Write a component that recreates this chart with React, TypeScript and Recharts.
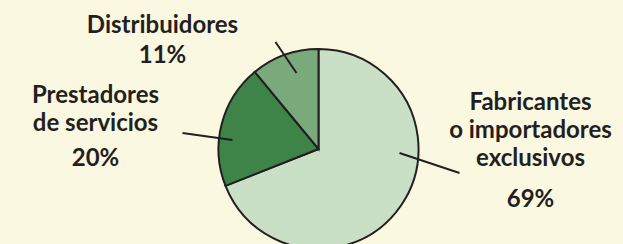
import { PieChart, Pie, Cell } from "recharts"

// reading order clockwise from the top
const categories = [
  "Fabricantes o importadores exclusivos",
  "Prestadores de servicios",
  "Distribuidores",
]
const shares = [69, 20, 11]
const labelRows = [
  ["Fabricantes", "o importadores", "exclusivos"],
  ["Prestadores", "de servicios"],
  ["Distribuidores"],
]

const COLORS = ["#c9e0c6", "#3e8449", "#7aaa7b"]
const INK = "#231f20"
const BG = "#fbf8e1"

// label placement, offsets from the pie centre
const LAYOUT = [
  { x1: 81, y1: 4, x2: 141, y2: 24, tx: 212, ty: -39, pct: 57.5 },
  { x1: -86, y1: -9, x2: -136, y2: -16, tx: -223, ty: -46, pct: 16.5 },
  { x1: -22, y1: -76, x2: -43, y2: -107, tx: -156, ty: -116, pct: -86.5 },
]

const data = categories.map((name, i) => ({
  name,
  value: shares[i],
  rows: labelRows[i],
}))

const textStyle = {
  fill: INK,
  fontSize: 24,
  fontWeight: 700,
  fontFamily: "Lato, sans-serif",
}

function renderLabel(props: any) {
  const { cx, cy, index, value } = props
  const l = LAYOUT[index]
  const rows: string[] = data[index].rows
  return (
    <g>
      <line
        x1={cx + l.x1}
        y1={cy + l.y1}
        x2={cx + l.x2}
        y2={cy + l.y2}
        stroke={INK}
        strokeWidth={2}
      />
      {rows.map((r, i) => (
        <text
          key={r}
          x={cx + l.tx}
          y={cy + l.ty + i * 28}
          textAnchor="middle"
          {...textStyle}
        >
          {r}
        </text>
      ))}
      <text x={cx + l.tx} y={cy + l.pct} textAnchor="middle" {...textStyle}>
        {value}%
      </text>
    </g>
  )
}

export default function App() {
  return (
    <div
      style={{
        position: "fixed",
        left: 0,
        top: 0,
        width: 623,
        height: 244,
        background: BG,
      }}
    >
      <PieChart width={623} height={244} margin={{ top: 0, right: 0, bottom: 0, left: 0 }}>
        <Pie
          data={data}
          dataKey="value"
          nameKey="name"
          cx={318.5}
          cy={149}
          outerRadius={100}
          startAngle={90}
          endAngle={-270}
          stroke={INK}
          strokeWidth={2}
          label={renderLabel}
          labelLine={false}
          isAnimationActive={false}
        >
          {data.map((entry, index) => (
            <Cell key={`cell-${index}`} fill={COLORS[index]} />
          ))}
        </Pie>
      </PieChart>
    </div>
  )
}
